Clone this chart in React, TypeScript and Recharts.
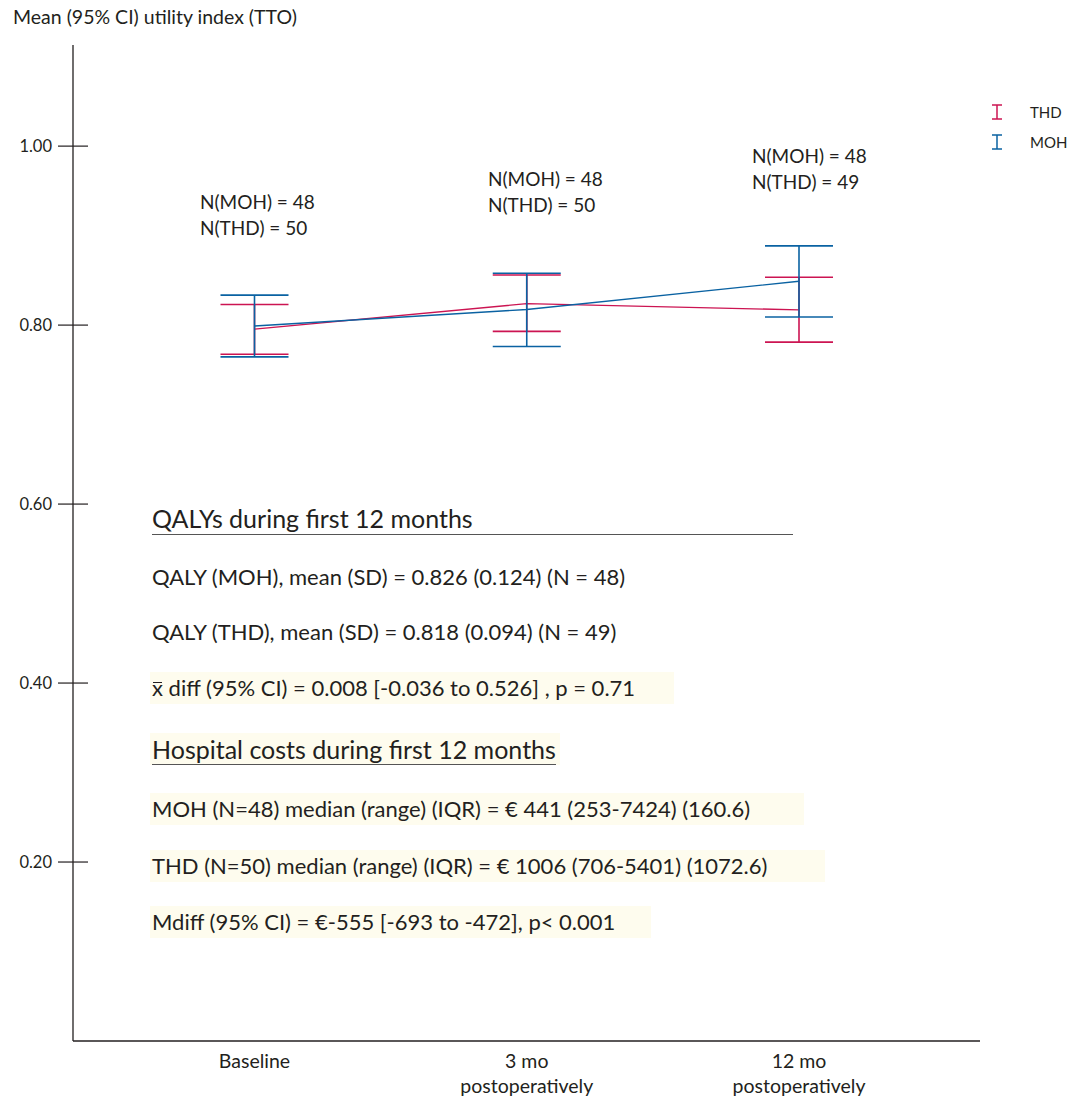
import { LineChart, Line, XAxis, YAxis, ErrorBar } from 'recharts'

const timepoints = ['Baseline', '3 mo\npostoperatively', '12 mo\npostoperatively']

// mean and 95% CI bounds of the TTO utility index
const thdMean = [0.7955, 0.824, 0.817]
const thdLow = [0.7675, 0.793, 0.781]
const thdHigh = [0.823, 0.856, 0.8535]
const mohMean = [0.799, 0.8175, 0.849]
const mohLow = [0.7645, 0.776, 0.809]
const mohHigh = [0.8335, 0.858, 0.8885]

const yTicks = [0.2, 0.4, 0.6, 0.8, 1.0]

const nLabels = [
    ['N(MOH) = 48', 'N(THD) = 50'],
    ['N(MOH) = 48', 'N(THD) = 50'],
    ['N(MOH) = 48', 'N(THD) = 49'],
]

const qalyTitle = 'QALYs during first 12 months'
const qalyLines = [
    'QALY (MOH), mean (SD) = 0.826 (0.124) (N = 48)',
    'QALY (THD), mean (SD) = 0.818 (0.094) (N = 49)',
]
const qalyDiff = ' diff (95% CI) = 0.008 [-0.036 to 0.526] , p = 0.71'
const costTitle = 'Hospital costs during first 12 months'
const costLines = [
    'MOH (N=48) median (range) (IQR) = € 441 (253-7424) (160.6)',
    'THD (N=50) median (range) (IQR) = € 1006 (706-5401) (1072.6)',
    'Mdiff (95% CI) = €-555 [-693 to -472], p< 0.001',
]

const RED = '#cc1452'
const BLUE = '#0a62a2'
const INK = '#231f20'
const HILITE = '#fefcee'
const FONT = 'Lato, "Open Sans", sans-serif'

const data = timepoints.map((t, i) => ({
    time: t,
    thd: thdMean[i],
    thdErr: [thdMean[i] - thdLow[i], thdHigh[i] - thdMean[i]],
    moh: mohMean[i],
    mohErr: [mohMean[i] - mohLow[i], mohHigh[i] - mohMean[i]],
}))

function YTick(props: any) {
    const { x, y, payload } = props
    return (
        <g>
            <line x1={x - 15} x2={x + 15} y1={y} y2={y} stroke={INK} strokeWidth={1.2} />
            <text x={x - 21} y={y} dy={6} textAnchor="end" fontSize={16.5} fill={INK} fontFamily={FONT}>
                {payload.value.toFixed(2)}
            </text>
        </g>
    )
}

function XTick(props: any) {
    const { x, y, payload } = props
    const lines = String(payload.value).split('\n')
    return (
        <text x={x} y={y} textAnchor="middle" fontSize={19.5} fill={INK} fontFamily={FONT}>
            {lines.map((l, i) => (
                <tspan key={i} x={x} dy={i === 0 ? 27 : 25}>{l}</tspan>
            ))}
        </text>
    )
}

function Marker({ color }: { color: string }) {
    return (
        <svg width={12} height={16} style={{ display: 'block' }}>
            <line x1={1} x2={11} y1={1} y2={1} stroke={color} strokeWidth={1.5} />
            <line x1={6} x2={6} y1={1} y2={15} stroke={color} strokeWidth={1.5} />
            <line x1={1} x2={11} y1={15} y2={15} stroke={color} strokeWidth={1.5} />
        </svg>
    )
}

function Row({ x, cy, w, size = 22, bg, children }: any) {
    return (
        <div
            style={{
                position: 'absolute',
                left: x,
                top: cy - 16,
                height: 32,
                width: w,
                lineHeight: '32px',
                fontSize: size,
                paddingLeft: 2,
                background: bg || 'transparent',
                whiteSpace: 'nowrap',
            }}
        >
            {children}
        </div>
    )
}

const nPos = [
    { x: 200, y: 202 },
    { x: 488, y: 179 },
    { x: 752, y: 156 },
]

export default function App() {
    return (
        <div style={{ position: 'absolute', left: 0, top: 0, width: 1067, height: 1097, overflow: 'hidden', fontFamily: FONT, color: INK, background: '#fff' }}>
            <LineChart width={1067} height={1097} data={data} margin={{ top: 45, right: 87, bottom: 0, left: 13 }}>
                <XAxis
                    dataKey="time"
                    type="category"
                    padding={{ left: 181.5, right: 181 }}
                    height={56}
                    tickSize={0}
                    tickMargin={0}
                    tickLine={false}
                    axisLine={{ stroke: INK, strokeWidth: 1.3 }}
                    tick={<XTick />}
                    interval={0}
                />
                <YAxis
                    type="number"
                    domain={[0, 1.113]}
                    ticks={yTicks}
                    width={60}
                    tickSize={0}
                    tickMargin={0}
                    tickLine={false}
                    axisLine={{ stroke: INK, strokeWidth: 1.3 }}
                    tick={<YTick />}
                    allowDataOverflow
                />
                <Line dataKey="thd" stroke={RED} strokeWidth={1.4} dot={false} isAnimationActive={false}>
                    <ErrorBar dataKey="thdErr" width={34} stroke={RED} strokeWidth={1.6} direction="y" isAnimationActive={false} />
                </Line>
                <Line dataKey="moh" stroke={BLUE} strokeWidth={1.4} dot={false} isAnimationActive={false}>
                    <ErrorBar dataKey="mohErr" width={34} stroke={BLUE} strokeWidth={1.6} direction="y" isAnimationActive={false} />
                </Line>
            </LineChart>

            <div style={{ position: 'absolute', left: 13, top: 6, fontSize: 19.5, lineHeight: '22px' }}>
                Mean (95% CI) utility index (TTO)
            </div>

            <div style={{ position: 'absolute', left: 991, top: 98, fontSize: 15, whiteSpace: 'nowrap' }}>
                <div style={{ display: 'flex', alignItems: 'center', height: 28 }}>
                    <Marker color={RED} />
                    <span style={{ marginLeft: 27 }}>THD</span>
                </div>
                <div style={{ display: 'flex', alignItems: 'center', height: 28, marginTop: 2 }}>
                    <Marker color={BLUE} />
                    <span style={{ marginLeft: 27 }}>MOH</span>
                </div>
            </div>

            {nLabels.map((pair, i) => (
                <div key={i} style={{ position: 'absolute', left: nPos[i].x, top: nPos[i].y - 13, fontSize: 19, lineHeight: '26px', whiteSpace: 'nowrap' }}>
                    {pair.map((l) => (
                        <div key={l}>{l}</div>
                    ))}
                </div>
            ))}

            <Row x={150} cy={518} size={25}>{qalyTitle}</Row>
            <div style={{ position: 'absolute', left: 152, top: 534, width: 641, height: 1, background: '#555' }} />
            <Row x={150} cy={577}>{qalyLines[0]}</Row>
            <Row x={150} cy={632}>{qalyLines[1]}</Row>
            <Row x={150} cy={688} w={522} bg={HILITE}>
                <span style={{ position: 'relative', display: 'inline-block', lineHeight: '32px' }}>
                    x
                    <span style={{ position: 'absolute', left: 1, right: 1, top: 10, height: 1.3, background: INK }} />
                </span>
                {qalyDiff}
            </Row>
            <Row x={150} cy={749} w={408} size={25} bg={HILITE}>
                <span style={{ borderBottom: '1.5px solid #555', paddingBottom: 0 }}>{costTitle}</span>
            </Row>
            <Row x={150} cy={809} w={652} bg={HILITE}>{costLines[0]}</Row>
            <Row x={150} cy={866} w={673} bg={HILITE}>{costLines[1]}</Row>
            <Row x={150} cy={922} w={499} bg={HILITE}>{costLines[2]}</Row>
        </div>
    )
}
